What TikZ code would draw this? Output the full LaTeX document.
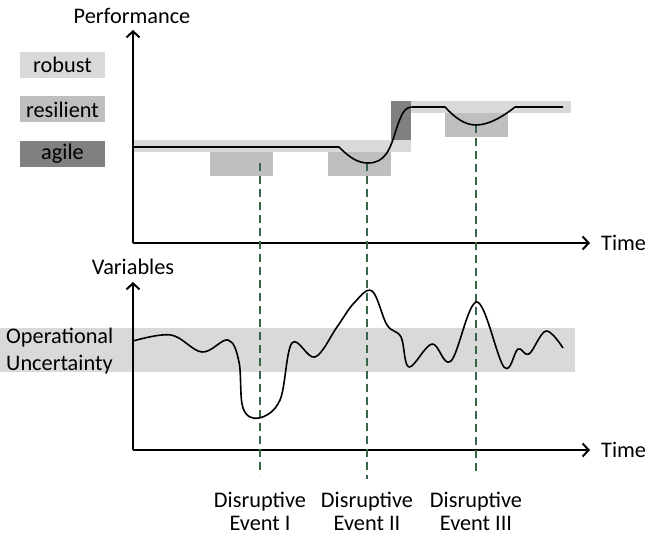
\documentclass[tikz,border=0pt]{standalone}
\usepackage{fontspec}
\setmainfont{Carlito}
\usetikzlibrary{arrows.meta,positioning}
\definecolor{robustgray}{HTML}{D9D9D9}
\definecolor{resilgray}{HTML}{BFBFBF}
\definecolor{agilegray}{HTML}{808080}
\definecolor{eventgreen}{HTML}{3A6447}

\begin{document}
\begin{tikzpicture}[x=1pt,y=-1pt,
    font=\fontsize{22.3}{23}\selectfont,
    legbox/.style={minimum width=85pt, minimum height=26pt, inner sep=0pt},
    axis/.style={line width=2pt, -{Straight Barb[length=6pt,width=13pt]}},
    eventline/.style={eventgreen, line width=1.3pt, dash pattern=on 8pt off 5pt},
    curve/.style={line width=1.6pt, line join=round},
    timelabel/.style={anchor=west, inner sep=0pt},
    eventlabel/.style={align=center, inner sep=0pt}]

  \useasboundingbox (0,0) rectangle (645,535);

  % legend
  \node[legbox, fill=robustgray] (robust) at (62.5,65) {robust};
  \node[legbox, fill=resilgray, below=18pt of robust] (resilient) {resilient};
  \node[legbox, fill=agilegray, below=18pt of resilient] (agile) {agile};

  % bands of the performance plot
  \fill[robustgray] (133,140) rectangle (411,152);
  \fill[robustgray] (411,101) rectangle (571,113);
  \fill[resilgray] (210,152) rectangle (273,176);
  \fill[resilgray] (328,152) rectangle (391,176);
  \fill[resilgray] (445,113) rectangle (508,137);
  \fill[agilegray] (391,101) rectangle (411,140);

  % operational uncertainty band
  \fill[robustgray] (0,328) rectangle (575,372);
  \node[anchor=west, align=left, font=\fontsize{22.3}{27.5}\selectfont, inner sep=0pt] (uncert) at (6,351) {Operational\\Uncertainty};

  % axes
  \coordinate (perfO) at (133,243);
  \coordinate (perfTop) at (133,30);
  \coordinate (perfEnd) at (590,243);
  \coordinate (varO) at (133,450);
  \coordinate (varTop) at (133,282);
  \coordinate (varEnd) at (590,450);
  \draw[axis] (perfO) -- (perfTop);
  \draw[axis] (perfO) -- (perfEnd);
  \draw[axis] (varO) -- (varTop);
  \draw[axis] (varO) -- (varEnd);
  \node (perf) at (132,16) {Performance};
  \node (vars) at (133,267) {Variables};
  \node[timelabel] (time1) at (601,243) {Time};
  \node[timelabel] (time2) at (601,450) {Time};

  % disruptive events
  \coordinate (dip1) at (260,163);
  \coordinate (dip2) at (367,163);
  \coordinate (dip3) at (476,125);
  \node[eventlabel] (ev1) at (260,511) {Disruptive\\Event I};
  \node[eventlabel] (ev2) at (367,511) {Disruptive\\Event II};
  \node[eventlabel] (ev3) at (476,511) {Disruptive\\Event III};
  \draw[eventline] (dip1) -- (dip1 |- 0,475);
  \draw[eventline] (dip2) -- (dip2 |- 0,479);
  \draw[eventline] (dip3) -- (dip3 |- 0,475);

  % performance curve
  \draw[curve] (133,147) -- (339,147)
    .. controls (350,158) and (358,163) .. (368,163)
    .. controls (385,163) and (390,150) .. (396,130)
    .. controls (402,112) and (405,107) .. (413,107) -- (445,107)
    .. controls (455,118) and (465,125) .. (476,125)
    .. controls (490,125) and (505,115) .. (515,107) -- (563,107);

  % variables curve
  \draw[curve] plot[smooth, tension=0.6] coordinates {
    (133,341) (171,335) (202,352) (228,340) (239,362) (243,408) (259,418)
    (280,400) (292,343) (315,357) (337,327) (354,303) (372,291) (387,325)
    (401,337) (409,367) (432,344) (451,361) (477,302) (504,367) (518,349)
    (529,354) (546,331) (563,348)};
\end{tikzpicture}
\end{document}
